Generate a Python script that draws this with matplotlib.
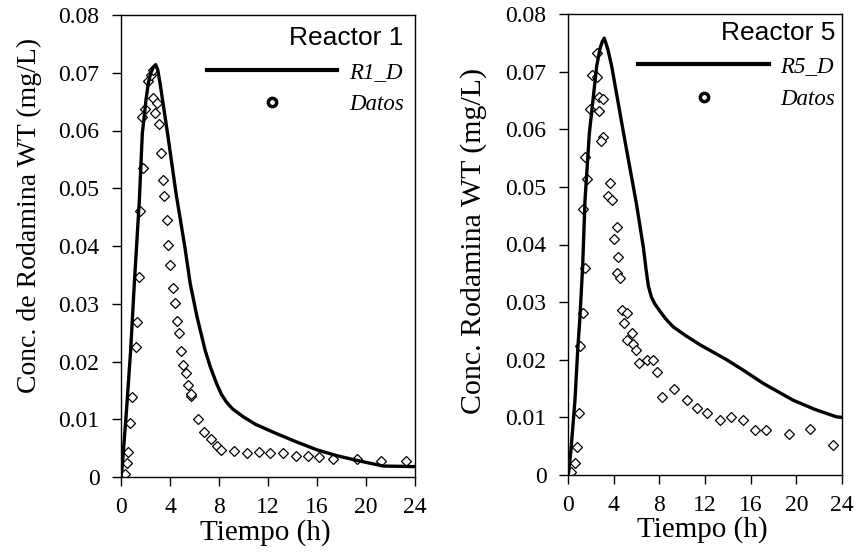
import matplotlib
matplotlib.use("Agg")
import matplotlib.pyplot as plt
from matplotlib.lines import Line2D

# curva modelo reactor 1
t_r1 = [0, 0.1, 0.41, 0.79, 1.09, 1.5, 1.74, 2.04, 2.23, 2.42, 2.65, 2.83, 3.0, 3.2, 3.8, 4.5,
        5.2, 5.65, 6.2, 6.86, 7.3, 7.8, 8.2, 8.6, 9.1, 10, 11, 12.6, 14.3, 16, 17.6, 19.2,
        20.3, 21.4, 24]
c_r1 = [0, 0.0018, 0.0104, 0.022, 0.0336, 0.048, 0.0595, 0.0653, 0.0682, 0.0699, 0.0710, 0.0714,
        0.0705, 0.068, 0.0595, 0.049, 0.040, 0.0335, 0.0278, 0.022, 0.019, 0.0162, 0.0143,
        0.0130, 0.0118, 0.0104, 0.0091, 0.0076, 0.0061, 0.0047, 0.0037, 0.0029, 0.0024,
        0.0019, 0.0018]

# datos reactor 1
td_r1 = [0.3, 0.46, 0.6, 0.73, 0.93, 1.2, 1.33, 1.47, 1.55, 1.82, 1.74, 1.96, 2.23, 2.45, 2.64,
         2.64, 2.78, 2.9, 3.13, 3.27, 3.4, 3.51, 3.78, 3.86, 4.0, 4.22, 4.41, 4.6, 4.73, 4.9,
         5.09, 5.28, 5.44, 5.71, 5.75, 6.26, 6.8, 7.32, 7.8, 8.2, 9.2, 10.3, 11.3, 12.2, 13.25,
         14.3, 15.3, 16.2, 17.3, 19.3, 21.2, 23.3]
cd_r1 = [0.0005, 0.0024, 0.0044, 0.0093, 0.0138, 0.0225, 0.0269, 0.0346, 0.0461, 0.0535, 0.0624,
         0.0638, 0.0685, 0.0696, 0.0705, 0.0656, 0.0630, 0.0647, 0.0612, 0.0561, 0.0515, 0.0487,
         0.0445, 0.0402, 0.0367, 0.0328, 0.0301, 0.0270, 0.0249, 0.0218, 0.0194, 0.0180, 0.0159,
         0.0141, 0.0143, 0.0100, 0.0078, 0.0065, 0.0053, 0.0046, 0.0045, 0.0041, 0.0043, 0.0041,
         0.0042, 0.0037, 0.0036, 0.0035, 0.0032, 0.0031, 0.0028, 0.0028]

# curva modelo reactor 5
t_r5 = [0, 0.05, 0.26, 0.61, 0.85, 1.05, 1.28, 1.49, 1.87, 2.51, 2.8, 3.0, 3.18, 3.5, 3.83, 4.85,
        6.0, 6.6, 6.85, 7.04, 7.3, 7.6, 8.06, 8.6, 9.22, 10.3, 11.56, 13.9, 15.5, 17.1, 19.7,
        21.6, 23.5, 24]
c_r5 = [0, 0.0005, 0.0043, 0.013, 0.0217, 0.0275, 0.0361, 0.0477, 0.0593, 0.0709, 0.074, 0.0752,
        0.0758, 0.0738, 0.0709, 0.0595, 0.047, 0.0395, 0.0355, 0.0328, 0.0309, 0.0297, 0.0284,
        0.0270, 0.0257, 0.0242, 0.0226, 0.020, 0.0180, 0.0159, 0.0130, 0.0114, 0.0101, 0.0100]

# datos reactor 5
td_r5 = [0.3, 0.61, 0.76, 0.96, 1.05, 1.34, 1.49, 1.28, 1.69, 1.49, 1.93, 2.13, 2.51, 2.51, 2.74,
         3.1, 2.74, 3.1, 2.89, 3.68, 3.53, 3.83, 4.26, 4.06, 4.41, 4.26, 4.55, 4.76, 5.2, 4.9,
         5.58, 5.14, 5.72, 5.96, 6.25, 6.9, 7.42, 7.83, 8.26, 9.28, 10.4, 11.27, 12.2, 13.3,
         14.28, 15.3, 16.4, 17.3, 19.4, 21.2, 23.2]
cd_r5 = [0.0005, 0.0020, 0.0048, 0.0107, 0.0224, 0.0281, 0.0360, 0.0461, 0.0513, 0.0552, 0.0636,
         0.0694, 0.0690, 0.0732, 0.0656, 0.0652, 0.0632, 0.0586, 0.0580, 0.0507, 0.0484, 0.0478,
         0.0431, 0.0409, 0.0379, 0.0350, 0.0342, 0.0287, 0.0281, 0.0263, 0.0247, 0.0234, 0.0227,
         0.0217, 0.0194, 0.0200, 0.0200, 0.0179, 0.0136, 0.0149, 0.0130, 0.0117, 0.0107, 0.0095,
         0.0101, 0.0095, 0.0078, 0.0078, 0.0072, 0.0079, 0.0052]

xticks = [0, 4, 8, 12, 16, 20, 24]
yticks = [0, 0.01, 0.02, 0.03, 0.04, 0.05, 0.06, 0.07, 0.08]
yticklabels = ["0", "0.01", "0.02", "0.03", "0.04", "0.05", "0.06", "0.07", "0.08"]

serif = "Liberation Serif"
sans = "Liberation Sans"

fig = plt.figure(figsize=(8.56, 5.53), dpi=100)
W, H = 856, 553
ax1 = fig.add_axes([121 / W, 1 - 477 / H, 294 / W, 462 / H])
ax2 = fig.add_axes([568 / W, 1 - 475 / H, 274 / W, 461 / H])

panels = [
    (ax1, t_r1, c_r1, td_r1, cd_r1, "Reactor 1", "R1_D", "Conc. de Rodamina WT (mg/L)",
     20, (-0.27, 0.567), 0.35),
    (ax2, t_r5, c_r5, td_r5, cd_r5, "Reactor 5", "R5_D", "Conc. Rodamina WT (mg/L)",
     21.5, (-0.297, 0.508), 0.15),
]

for ax, t, c, td, cd, title, lab, ylab, ysize, ypos, legpad in panels:
    ax.plot(td, cd, ls="none", marker="D", ms=5.4, mfc="white", mec="black", mew=0.9, zorder=2)
    ax.plot(t, c, color="black", lw=2.4, zorder=3)
    ax.set_xlim(0, 24)
    ax.set_ylim(0, 0.08)
    ax.set_xticks(xticks)
    ax.set_xticklabels([str(x) for x in xticks], fontfamily=serif)
    ax.set_yticks(yticks)
    ax.set_yticklabels(yticklabels, fontfamily=serif)
    ax.tick_params(direction="out", length=6.5, width=1, labelsize=17)
    ax.tick_params(axis="x", pad=8)
    ax.tick_params(axis="y", pad=9)
    for s in ax.spines.values():
        s.set_linewidth(1)
    ax.set_xlabel("Tiempo (h)", fontfamily=serif, fontsize=21)
    ax.xaxis.set_label_coords(0.49, -0.09)
    ax.set_ylabel(ylab, fontfamily=serif, fontsize=ysize)
    ax.yaxis.set_label_coords(*ypos)

    handles = [
        Line2D([], [], color="black", lw=3),
        Line2D([], [], ls="none", marker="o", ms=6, mfc="white", mec="black", mew=2.5),
    ]
    ax.legend(handles, [lab, "Datos"], loc="upper right", frameon=False,
              title=title, alignment="right", handlelength=5.7, handletextpad=0.5,
              labelspacing=0.5, borderpad=0.15, borderaxespad=legpad,
              prop={"family": serif, "style": "italic", "size": 16.5},
              title_fontproperties={"family": sans, "size": 19})

fig.savefig("out.png", dpi=100)
